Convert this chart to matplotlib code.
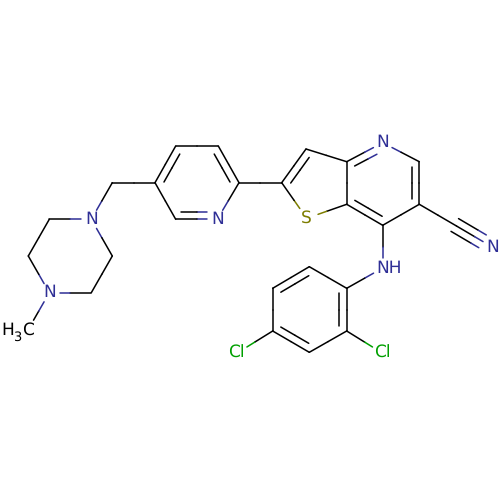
import numpy as np
import matplotlib
matplotlib.use("Agg")
import matplotlib.pyplot as plt

plt.rcParams["text.hinting"] = "none"
plt.rcParams["text.hinting_factor"] = 1

# atoms: pixel positions
atom_x = [28.3, 49.3, 28.3, 49.3, 91.3, 112.3, 91.3, 112.3, 155.0, 175.7, 218.3, 239.0,
          217.3, 175.7, 281.7, 306.0, 346.7, 346.7, 306.7, 382.7, 419.3, 419.3, 382.7,
          456.5, 492.7, 382.7, 346.7, 309.3, 272.7, 272.7, 309.3, 346.7, 236.7, 382.7]
atom_y = [329.3, 292.7, 256.0, 219.3, 219.3, 256.0, 292.7, 182.7, 182.7, 146.0, 146.0, 182.7,
          219.3, 219.3, 182.7, 149.0, 161.7, 204.3, 218.3, 142.7, 161.7, 204.3, 225.3,
          226.0, 247.3, 268.0, 288.3, 266.7, 288.3, 331.0, 352.3, 331.0, 353.3, 353.3]
atom_el = ["C3", "N", "C", "C", "N", "C", "C", "C", "C", "C", "C", "C",
           "N", "C", "C", "C", "C", "C", "S", "N", "C", "C", "C",
           "C", "N", "NH", "C", "C", "C", "C", "C", "C", "Cl", "Cl"]

# bonds: atom a, atom b, order, ring the inner line leans to
bonds = [(0, 1, 1, None), (1, 2, 1, None), (2, 3, 1, None), (3, 4, 1, None), (4, 5, 1, None),
         (5, 6, 1, None), (6, 1, 1, None), (4, 7, 1, None), (7, 8, 1, None),
         (8, 9, 2, "py"), (9, 10, 1, None), (10, 11, 2, "py"), (11, 12, 1, None),
         (12, 13, 2, "py"), (13, 8, 1, None), (11, 14, 1, None),
         (14, 15, 2, "th"), (15, 16, 1, None), (16, 17, 1, None), (17, 18, 1, None), (18, 14, 1, None),
         (16, 19, 2, "pm"), (19, 20, 1, None), (20, 21, 2, "pm"), (21, 22, 1, None), (22, 17, 2, "pm"),
         (21, 23, 1, None), (23, 24, 3, None), (22, 25, 1, None), (25, 26, 1, None),
         (26, 27, 1, None), (27, 28, 2, "an"), (28, 29, 1, None), (29, 30, 2, "an"),
         (30, 31, 1, None), (31, 26, 2, "an"), (29, 32, 1, None), (31, 33, 1, None)]

rings = {"py": [8, 9, 10, 11, 12, 13], "th": [14, 15, 16, 17, 18],
         "pm": [16, 19, 20, 21, 22, 17], "an": [26, 27, 28, 29, 30, 31]}

colors = {"C": "#000000", "C3": "#000000", "N": "#2f2f96", "NH": "#2f2f96",
          "S": "#7d7d00", "Cl": "#00a000"}
label_gap = {"C": 0.0, "C3": 10.5, "N": 10.5, "NH": 10.5, "S": 12.0, "Cl": 12.0}

LW = 1.1

fig = plt.figure(figsize=(5, 5), dpi=100, facecolor="white")
ax = fig.add_axes([0, 0, 1, 1])
ax.set_xlim(0, 500)
ax.set_ylim(500, 0)
ax.axis("off")

P = np.column_stack([atom_x, atom_y])


def two_tone(p, q, a, b):
    """Draw a segment, each half in the colour of the nearer atom."""
    d = P[b] - P[a]
    mid_t = np.dot((P[a] + P[b]) / 2 - p, d) / np.dot(d, d)
    total = np.dot(q - p, d) / np.dot(d, d)
    t = np.clip(mid_t / total if total else 0.5, 0, 1)
    m = p + (q - p) * t
    ax.plot([p[0], m[0]], [p[1], m[1]], color=colors[atom_el[a]], lw=LW, solid_capstyle="round")
    ax.plot([m[0], q[0]], [m[1], q[1]], color=colors[atom_el[b]], lw=LW, solid_capstyle="round")


for a, b, order, ring in bonds:
    pa, pb = P[a], P[b]
    L = np.linalg.norm(pb - pa)
    u = (pb - pa) / L
    n = np.array([-u[1], u[0]])
    ga, gb = label_gap[atom_el[a]], label_gap[atom_el[b]]
    if order == 3:
        two_tone(pa, pb - u * 11.2, a, b)
        for s in (-1, 1):
            two_tone(pa - u * 2 + n * s * 7.4, pb - u * 11.8 + n * s * 7.4, a, b)
        continue
    two_tone(pa + u * ga, pb - u * gb, a, b)
    if order == 2:
        centre = P[rings[ring]].mean(axis=0)
        s = np.sign(np.dot(centre - pa, n))
        ia = max(ga, 5.0)
        ib = max(gb, 5.0)
        two_tone(pa + u * ia + n * s * 7.5, pb - u * ib + n * s * 7.5, a, b)

FS = 12.6
font = dict(family="DejaVu Sans", va="center")
for i, el in enumerate(atom_el):
    x, y = P[i]
    if el in ("N", "S", "Cl"):
        ax.text(x, y, el, color=colors[el], fontsize=FS, ha="center", **font)
    elif el == "NH":
        ax.text(x - 6.5, y, "NH", color=colors[el], fontsize=FS, ha="left", **font)
    elif el == "C3":
        ax.text(x - 27.3, y + 1.0, "H", color="#000000", fontsize=FS, ha="left", **font)
        ax.text(x - 15.0, y + 8.2, "3", color="#000000", fontsize=9.0, ha="left", **font)
        ax.text(x + 5.9, y + 1.0, "C", color="#000000", fontsize=FS, ha="right", **font)

fig.savefig("out.png", dpi=100, facecolor="white")
